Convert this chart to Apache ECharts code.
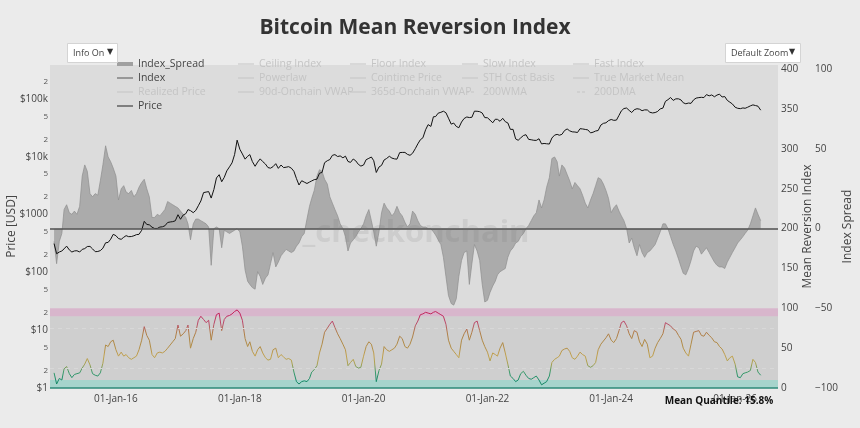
<!DOCTYPE html>
<html>
<head>
<meta charset="utf-8">
<script src="https://cdn.jsdelivr.net/npm/echarts@6/dist/echarts.min.js"></script>
<style>
  html, body { margin: 0; padding: 0; background: #ebebeb; }
  #chart { width: 860px; height: 428px; }
</style>
</head>
<body>
<div id="chart"></div>
<script>
// semi-monthly samples (1st and 16th of each month), starting Jan 2015
const startYear = 2015;

const priceUsd = [
  // 2015
  315, 210, 225, 235, 255, 285, 245, 225, 235, 237, 225, 250, 258, 280, 282, 255, 228, 230, 238, 262, 325, 330, 375, 455,
  // 2016
  432, 385, 373, 405, 432, 415, 417, 430, 450, 455, 535, 765, 675, 665, 605, 575, 575, 608, 615, 640, 730, 745, 755, 780,
  // 2017
  995, 830, 985, 1035, 1220, 1170, 1080, 1180, 1420, 1720, 2400, 2450, 2500, 1930, 2720, 4300, 4900, 3700, 4400, 5700, 6700, 7850, 10900, 19400,
  // 2018
  13500, 11200, 9100, 10200, 10900, 8250, 6850, 8100, 9200, 8250, 7500, 6500, 6350, 6750, 7600, 6300, 7200, 6500, 6600, 6750, 6350, 5600, 4200, 3250,
  // 2019
  3850, 3650, 3450, 3650, 3820, 4020, 4100, 5200, 5350, 7900, 8550, 8950, 10600, 10900, 10100, 10350, 9600, 10250, 8300, 8000, 9150, 8500, 7400, 6900,
  // 2020
  7200, 8900, 9400, 9900, 8550, 5350, 6650, 7100, 8800, 9350, 10200, 9500, 9200, 9100, 11800, 11900, 11900, 11000, 10600, 11500, 13800, 16700, 19700, 21300,
  // 2021
  29400, 36000, 33500, 49200, 49600, 56800, 58800, 61400, 57800, 46500, 36700, 38300, 33500, 31800, 39900, 45900, 48800, 47700, 48200, 61500, 61300, 60300, 57200, 47600,
  // 2022
  47300, 43100, 38700, 44600, 44400, 41100, 46300, 40500, 38500, 29800, 29800, 20400, 19300, 21200, 23300, 24100, 20000, 19700, 19300, 19200, 20500, 16700, 17000, 16800,
  // 2023
  16600, 21100, 23700, 24400, 23600, 24400, 28500, 30300, 28100, 27000, 26800, 26300, 30600, 30300, 29700, 29200, 25900, 26600, 27900, 28500, 35400, 37900, 38700, 42200,
  // 2024
  44200, 42700, 43100, 52100, 62400, 68400, 69700, 63400, 58300, 65200, 67800, 66600, 62700, 64800, 64600, 58900, 57300, 58200, 60800, 67400, 69500, 91000, 97200, 106000,
  // 2025
  94400, 100500, 100600, 96100, 86000, 82600, 85000, 84000, 96500, 103500, 105600, 106800, 105700, 119000, 113300, 117400, 109200, 116800, 121000, 108200, 110000, 94500, 88000, 82000,
  // 2026
  72000, 69000, 68000, 70000, 69000, 72000, 76000, 79000, 77000, 75000, 64000
];

const indexSpread = [
  -8, -22, -8, -3, 12, 15, 10, 9, 11, 9, 14, 33, 40, 36, 22, 20, 22, 21, 30, 40, 52, 45, 42, 38,
  33, 18, 25, 27, 23, 22, 24, 20, 22, 26, 29, 31, 25, 20, 7, 7, 9, 8, 10, 12, 17, 16, 15, 14,
  13, 11, 9, 7, 3, -7, 3, 6, 6, 5, 4, 3, 1, -23, 0, 1, 0, -12, -1, -2, -3, -2, -1, 0,
  -2, -11, -26, -33, -35, -37, -38, -27, -30, -35, -31, -29, -22, -15, -24, -21, -17, -15, -13, -14, -15, -14, -11, -9,
  -5, -3, 6, 14, 19, 24, 33, 37, 36, 31, 28, 20, 16, 12, 8, 3, 0, -5, -14, -9, -7, -5, -2, 0,
  3, 8, 12, 5, -2, -11, -2, 10, 16, 13, 11, 8, 10, 14, 10, 8, 4, 1, 3, 11, 9, 5, 2, 1,
  1, 0, 0, -2, -4, -7, -10, -18, -30, -42, -47, -48, -44, -30, -20, -15, -14, -35, -22, -10, -14, -20, -35, -46,
  -45, -40, -36, -33, -29, -27, -26, -25, -18, -14, -12, -9, -8, -5, -3, 0, 2, 5, 8, 10, 18, 13, 18, 26,
  32, 44, 45, 42, 33, 40, 38, 34, 30, 25, 29, 27, 25, 21, 16, 13, 18, 22, 27, 32, 31, 28, 24, 19,
  10, 13, 15, 11, 8, 5, 0, -9, -6, -12, -17, -10, -15, -18, -15, -14, -12, -10, -6, -2, 3, 3, 0, -5,
  -10, -14, -19, -24, -28, -29, -25, -20, -14, -11, -12, -16, -14, -12, -15, -18, -21, -23, -24, -24, -25, -21, -18, -15,
  -12, -9, -7, -5, -3, -1, 3, 8, 13, 9, 5
];

const meanRevIndex = [
  19, 5, 12, 10, 24, 27, 18, 13, 17, 18, 19, 25, 30, 37, 29, 18, 16, 15, 19, 31, 54, 52, 58, 60,
  48, 40, 45, 40, 42, 38, 36, 38, 40, 48, 60, 77, 66, 60, 42, 38, 44, 45, 44, 46, 50, 54, 58, 62,
  79, 65, 68, 72, 79, 50, 62, 70, 85, 90, 86, 82, 85, 60, 80, 92, 94, 72, 86, 90, 91, 93, 96, 98,
  94, 85, 62, 52, 58, 46, 40, 48, 52, 44, 38, 35, 36, 48, 50, 38, 42, 39, 36, 37, 35, 20, 8, 5,
  8, 9, 8, 12, 20, 23, 28, 44, 55, 70, 75, 80, 84, 76, 68, 62, 55, 48, 28, 32, 36, 27, 25, 26,
  40, 52, 58, 55, 44, 8, 22, 30, 52, 48, 46, 48, 50, 55, 65, 62, 52, 50, 55, 64, 78, 84, 92, 93,
  95, 94, 93, 95, 96, 94, 92, 90, 80, 60, 50, 46, 42, 38, 60, 68, 74, 60, 70, 82, 84, 72, 60, 52,
  45, 34, 44, 42, 40, 50, 57, 44, 30, 15, 12, 8, 10, 18, 21, 16, 12, 11, 13, 15, 10, 4, 6, 8,
  15, 32, 36, 38, 40, 47, 49, 50, 46, 38, 36, 40, 45, 42, 40, 28, 26, 28, 32, 48, 55, 59, 63, 68,
  60, 57, 62, 72, 82, 84, 78, 68, 62, 72, 70, 58, 52, 61, 55, 38, 40, 50, 57, 62, 68, 82, 80, 78,
  74, 72, 66, 61, 50, 44, 40, 55, 70, 71, 72, 66, 65, 70, 66, 63, 58, 57, 52, 49, 42, 34, 38, 40,
  30, 14, 13, 18, 19, 20, 22, 36, 32, 20, 16
];

const meanQuantile = '15.8%';

const xTickYears = [2016, 2018, 2020, 2022, 2024, 2026];
const priceTicks = [1, 2, 5, 10, 20, 50, 100, 200, 500, 1000, 2000, 5000, 10000, 20000, 50000, 100000, 200000];
const indexTicks = [0, 50, 100, 150, 200, 250, 300, 350, 400];
const spreadTicks = [-100, -50, 0, 50, 100];

// legend columns: [names, left, top]
const legendColumns = [
  [['Index_Spread'], 117, 57],
  [['Index', 'Realized Price', 'Price'], 117, 71],
  [['Ceiling Index', 'Powerlaw', '90d-Onchain VWAP'], 238, 57],
  [['Floor Index', 'Cointime Price', '365d-Onchain VWAP'], 350, 57],
  [['Slow Index', 'STH Cost Basis', '200WMA'], 462, 57],
  [['Fast Index', 'True Market Mean', '200DMA'], 573, 57]
];
const hiddenSeries = ['Ceiling Index', 'Floor Index', 'Slow Index', 'Fast Index', 'Powerlaw',
  'Cointime Price', 'STH Cost Basis', 'True Market Mean', 'Realized Price',
  '90d-Onchain VWAP', '365d-Onchain VWAP', '200WMA', '200DMA'];

// build time stamps
const dates = [];
for (let i = 0; i < priceUsd.length; i++) {
  const y = startYear + Math.floor(i / 24);
  const m = Math.floor((i % 24) / 2);
  dates.push(new Date(y, m, i % 2 === 0 ? 1 : 16).getTime());
}
const pricePts = dates.map((t, i) => [t, priceUsd[i]]);
const spreadPts = dates.map((t, i) => [t, indexSpread[i]]);
const indexPts = dates.map((t, i) => [t, meanRevIndex[i]]);

const FONT = '"Open Sans", "DejaVu Sans", sans-serif';
const DASH_ICON = 'path://M0,0 L6,0 L6,2 L0,2 Z M10,0 L16,0 L16,2 L10,2 Z';

function priceLabel(v) {
  const e = Math.round(Math.log10(v));
  if (Math.abs(v - Math.pow(10, e)) < 1e-6 * v) {
    const names = ['$1', '$10', '$100', '$1000', '$10k', '$100k'];
    return '{big|' + names[e] + '}';
  }
  return '{small|' + Math.round(v / Math.pow(10, Math.floor(Math.log10(v) + 1e-9))) + '}';
}

let eChart = echarts.init(document.getElementById('chart'));

let selected = {};
hiddenSeries.forEach(n => { selected[n] = false; });

let legends = legendColumns.map(col => ({
  orient: 'vertical',
  left: col[1],
  top: col[2],
  itemWidth: 16,
  itemHeight: col[0][0] === 'Index_Spread' ? 4 : 1,
  itemGap: 0,
  padding: 0,
  selected: selected,
  inactiveColor: '#c4c4c4',
  inactiveBorderColor: '#c4c4c4',
  textStyle: { fontSize: 10.5, fontFamily: FONT, color: '#444', lineHeight: 14, height: 14 },
  data: col[0].map(n => {
    if (n === 'Index_Spread') return { name: n, icon: 'rect', itemStyle: { color: '#a0a0a0' } };
    if (n === 'Index') return { name: n, icon: 'rect', itemStyle: { color: '#555' } };
    if (n === 'Price') return { name: n, icon: 'rect', itemStyle: { color: '#222' } };
    if (n === '200WMA' || n === '200DMA') return { name: n, icon: DASH_ICON };
    return { name: n, icon: 'rect' };
  })
}));

let series = [
  {
    name: 'Index_Spread',
    type: 'line',
    yAxisIndex: 2,
    data: spreadPts,
    symbol: 'none',
    lineStyle: { color: '#8e8e8e', width: 0.7 },
    itemStyle: { color: '#a0a0a0' },
    areaStyle: { color: '#ababab', opacity: 1 },
    z: 2,
    markLine: {
      silent: true,
      symbol: 'none',
      label: { show: false },
      lineStyle: { color: '#505050', width: 1.5, type: 'solid' },
      data: [{ yAxis: 0 }]
    }
  },
  {
    name: 'Index',
    type: 'line',
    yAxisIndex: 1,
    data: indexPts,
    symbol: 'none',
    lineStyle: { width: 1 },
    z: 3,
    markArea: {
      silent: true,
      data: [
        [{ yAxis: 0, itemStyle: { color: 'rgba(90,200,180,0.42)' } }, { yAxis: 10 }],
        [{ yAxis: 10, itemStyle: { color: 'rgba(0,0,0,0.06)' } }, { yAxis: 90 }],
        [{ yAxis: 90, itemStyle: { color: 'rgba(210,120,180,0.38)' } }, { yAxis: 100 }]
      ]
    },
    markLine: {
      silent: true,
      symbol: 'none',
      label: { show: false },
      data: [
        { yAxis: 25, lineStyle: { color: '#d8d8d8', width: 1, type: [4, 4] } },
        { yAxis: 75, lineStyle: { color: '#d8d8d8', width: 1, type: [4, 4] } },
        { yAxis: 0, lineStyle: { color: '#2d8a78', width: 1.5, type: 'solid' } }
      ]
    }
  },
  {
    name: 'Price',
    type: 'line',
    yAxisIndex: 0,
    data: pricePts,
    symbol: 'none',
    lineStyle: { color: '#111', width: 1 },
    itemStyle: { color: '#111' },
    z: 4
  }
];
hiddenSeries.forEach(n => {
  series.push({
    name: n,
    type: 'line',
    yAxisIndex: 0,
    data: [],
    symbol: 'none',
    lineStyle: { color: '#999', width: 1 },
    itemStyle: { color: '#999' }
  });
});

let option = {
  backgroundColor: '#ebebeb',
  animation: false,
  textStyle: { fontFamily: FONT },
  legend: legends,
  grid: {
    left: 50, right: 82, top: 65, bottom: 40,
    outerBoundsMode: 'none',
    containLabel: false,
    show: true, backgroundColor: '#dcdcdc', borderWidth: 0
  },
  xAxis: {
    type: 'value',
    min: new Date(2014, 11, 8).getTime(),
    max: new Date(2026, 8, 11).getTime(),
    axisLine: { show: false },
    axisTick: { show: false },
    splitLine: { show: false },
    axisLabel: {
      customValues: xTickYears.map(y => new Date(y, 0, 1).getTime()),
      formatter: v => '01-Jan-' + String(new Date(v).getFullYear()).slice(2),
      color: '#444', fontSize: 10, fontFamily: FONT, margin: 6
    }
  },
  yAxis: [
    {
      type: 'log',
      logBase: 10,
      min: 1,
      max: 387000,
      position: 'left',
      axisLine: { show: false },
      axisTick: { show: false },
      splitLine: { show: false },
      name: 'Price [USD]',
      nameLocation: 'middle',
      nameGap: 32,
      nameRotate: 90,
      nameMoveOverlap: false,
      nameTextStyle: { fontSize: 12, color: '#444', fontFamily: FONT },
      axisLabel: {
        customValues: priceTicks,
        formatter: priceLabel,
        margin: 2,
        rich: {
          big: { fontSize: 10, color: '#444', fontFamily: FONT },
          small: { fontSize: 8, color: '#555', fontFamily: FONT }
        }
      }
    },
    {
      type: 'value',
      min: 0,
      max: 405.4,
      position: 'right',
      axisLine: { show: false },
      axisTick: { show: false },
      splitLine: { show: false },
      name: 'Mean Reversion Index',
      nameLocation: 'middle',
      nameGap: 24,
      nameRotate: 90,
      nameMoveOverlap: false,
      nameTextStyle: { fontSize: 12, color: '#444', fontFamily: FONT },
      axisLabel: {
        customValues: indexTicks,
        color: '#444', fontSize: 10, fontFamily: FONT, margin: 3
      }
    },
    {
      type: 'value',
      min: -100,
      max: 102.7,
      position: 'right',
      offset: 34,
      axisLine: { show: false },
      axisTick: { show: false },
      splitLine: { show: false },
      name: 'Index Spread',
      nameLocation: 'middle',
      nameGap: 30,
      nameRotate: 90,
      nameMoveOverlap: false,
      nameTextStyle: { fontSize: 12, color: '#444', fontFamily: FONT },
      axisLabel: {
        customValues: spreadTicks,
        formatter: v => String(v).replace('-', '\u2212'),
        color: '#444', fontSize: 10, fontFamily: FONT, margin: 3
      }
    }
  ],
  visualMap: {
    type: 'continuous',
    show: false,
    seriesIndex: 1,
    dimension: 1,
    min: 0,
    max: 100,
    inRange: {
      color: ['#0d7f5f', '#178c68', '#3a9a6a', '#a8a050', '#c2a24e', '#b49048',
        '#ae8646', '#b07c48', '#b8506a', '#c22a60', '#c41a58']
    }
  },
  graphic: [
    {
      type: 'text', x: 415, y: 28, z: 10,
      style: { text: 'Bitcoin Mean Reversion Index', font: 'bold 21px ' + FONT, fill: '#333', align: 'center', verticalAlign: 'middle' }
    },
    {
      type: 'text', x: 416, y: 233, z: 10, silent: true,
      style: { text: '_checkonchain', font: 'bold 31px ' + FONT, fill: 'rgba(110,110,110,0.14)', align: 'center', verticalAlign: 'middle' }
    },
    {
      type: 'rect', z: 10, shape: { x: 67.5, y: 43.5, width: 50, height: 19 },
      style: { fill: '#fff', stroke: '#d4d4d4', lineWidth: 1 }
    },
    { type: 'text', x: 73, y: 53, z: 11, style: { text: 'Info On', font: '9px ' + FONT, fill: '#444', verticalAlign: 'middle' } },
    { type: 'text', x: 107, y: 52, z: 11, style: { text: '\u25BC', font: '8px ' + FONT, fill: '#333', verticalAlign: 'middle' } },
    {
      type: 'rect', z: 10, shape: { x: 725.5, y: 43.5, width: 75, height: 19 },
      style: { fill: '#fff', stroke: '#d4d4d4', lineWidth: 1 }
    },
    { type: 'text', x: 731, y: 53, z: 11, style: { text: 'Default Zoom', font: '9px ' + FONT, fill: '#444', verticalAlign: 'middle' } },
    { type: 'text', x: 789, y: 52, z: 11, style: { text: '\u25BC', font: '8px ' + FONT, fill: '#333', verticalAlign: 'middle' } },
    {
      type: 'text', x: 719, y: 401, z: 11,
      style: { text: 'Mean Quantile: ' + meanQuantile, font: 'bold 10px ' + FONT, fill: '#111', align: 'center', verticalAlign: 'middle' }
    }
  ],
  series: series
};

eChart.setOption(option);
</script>
</body>
</html>
